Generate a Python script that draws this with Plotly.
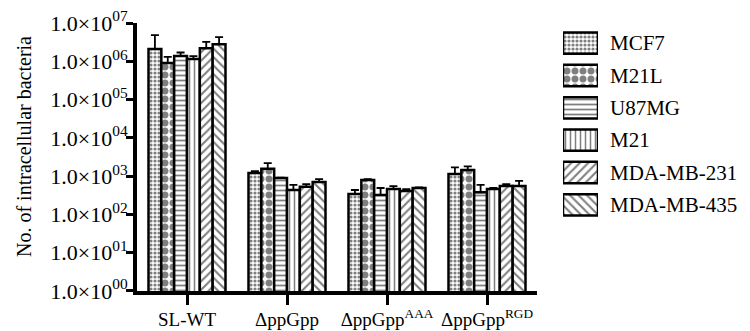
import plotly.graph_objects as go

categories = ["SL-WT", "ΔppGpp", "ΔppGpp<sup>AAA</sup>", "ΔppGpp<sup>RGD</sup>"]
series_names = ["MCF7", "M21L", "U87MG", "M21", "MDA-MB-231", "MDA-MB-435"]

mcf7 = [2.1e6, 1.2e3, 340, 1.13e3]
m21l = [9.0e5, 1.55e3, 790, 1.45e3]
u87mg = [1.38e6, 890, 320, 380]
m21 = [1.15e6, 435, 460, 460]
mda231 = [2.2e6, 525, 410, 550]
mda435 = [2.8e6, 705, 490, 550]

mcf7_top = [4.8e6, 1.35e3, 435, 1.7e3]
m21l_top = [1.3e6, 2.2e3, 840, 1.8e3]
u87mg_top = [1.7e6, 920, 490, 590]
m21_top = [1.37e6, 590, 550, 490]
mda231_top = [3.2e6, 620, 460, 620]
mda435_top = [4.3e6, 835, 505, 750]

values = [mcf7, m21l, u87mg, m21, mda231, mda435]
tops = [mcf7_top, m21l_top, u87mg_top, m21_top, mda231_top, mda435_top]

tick_vals = [1, 10, 100, 1e3, 1e4, 1e5, 1e6, 1e7]
tick_text = ["1.0×10<sup>%02d</sup>" % i for i in range(8)]
y_title = "No. of intracellular bacteria"

pat_shapes = [".", ".", "-", "|", "/", "\\"]
pat_sizes = [4, 8, 5, 5, 6, 6]
pat_solid = [0.5, 0.6, 0.35, 0.3, 0.35, 0.35]

FONT = "Liberation Serif, Times New Roman, serif"
OFF = 8  # page body margin
W, H = 750 - OFF, 331 - OFF
L, R, T, B = 137 - OFF, 2, 23 - OFF, 40
PW, PH = W - L - R, H - T - B

def px_x(p):  # screen pixel -> paper x
    return (p - OFF - L) / PW

def px_y(p):  # screen pixel -> paper y
    return (H - B - (p - OFF)) / PH

fig = go.Figure()
for i, (name, vals, tp) in enumerate(zip(series_names, values, tops)):
    fig.add_trace(go.Bar(
        name=name, x=categories, y=vals, showlegend=False,
        marker=dict(color="white", line=dict(color="black", width=2.5),
                    pattern=dict(shape=pat_shapes[i], size=pat_sizes[i], solidity=pat_solid[i],
                                 fgcolor="black", bgcolor="white", fillmode="overlay")),
        error_y=dict(type="data", symmetric=False,
                     array=[t - v for t, v in zip(tp, vals)],
                     arrayminus=[0] * len(vals),
                     color="black", thickness=1.8, width=4),
        xaxis="x", yaxis="y",
    ))

# legend swatches drawn on a small auxiliary axis
rows = list(range(len(series_names)))
fig.add_trace(go.Bar(
    x=[1] * len(series_names), y=rows, orientation="h", base=0, width=0.66,
    showlegend=False, hoverinfo="skip",
    marker=dict(color="white", line=dict(color="black", width=2.5),
                pattern=dict(shape=pat_shapes, size=pat_sizes, solidity=pat_solid,
                             fgcolor="black", bgcolor="white", fillmode="overlay")),
    xaxis="x2", yaxis="y2",
))
for i, name in enumerate(series_names):
    fig.add_annotation(text=name, xref="paper", yref="y2", x=px_x(609), y=i,
                       xanchor="left", yanchor="middle", showarrow=False, borderpad=0,
                       font=dict(size=21, family=FONT, color="black"))

fig.add_annotation(text=y_title, xref="paper", yref="paper", x=px_x(24), y=px_y(147),
                   xanchor="center", yanchor="middle", textangle=-90, showarrow=False,
                   font=dict(size=20, family=FONT, color="black"))

fig.update_layout(
    width=W, height=H,
    margin=dict(l=L, r=R, t=T, b=B),
    paper_bgcolor="white", plot_bgcolor="white",
    barmode="group", bargap=0.23, bargroupgap=0,
    font=dict(family=FONT, color="black", size=15),
    showlegend=False,
    xaxis=dict(domain=[0, px_x(537)], range=[-0.5, 3.5], showline=True, linecolor="black", linewidth=4,
               ticks="outside", ticklen=10, tickwidth=3, tickcolor="black", ticklabelstandoff=-2,
               automargin=False, ticklabeloverflow="allow",
               tickfont=dict(size=19, family=FONT), showgrid=False, zeroline=False),
    yaxis=dict(type="log", range=[-0.0005, 7.0005], tickvals=tick_vals, ticktext=tick_text,
               showline=True, linecolor="black", linewidth=4, automargin=False,
               ticklabeloverflow="allow",
               ticks="outside", ticklen=7, tickwidth=3, tickcolor="black", ticklabelstandoff=-6,
               tickfont=dict(size=22, family=FONT), showgrid=False, zeroline=False),
    xaxis2=dict(domain=[px_x(563), px_x(598)], range=[0, 1], anchor="y2", visible=False, fixedrange=True),
    yaxis2=dict(domain=[px_y(221), px_y(27)], range=[5.5, -0.5], anchor="x2", visible=False, fixedrange=True),
)

fig.write_html("out.html")
